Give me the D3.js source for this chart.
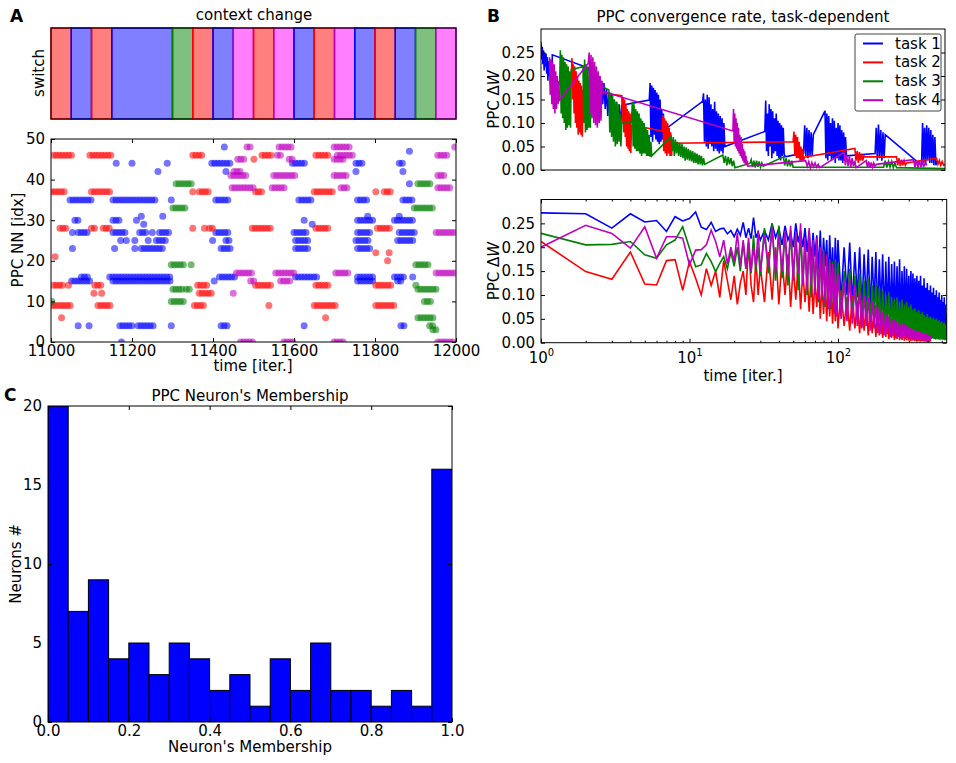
<!DOCTYPE html>
<html>
<head>
<meta charset="utf-8">
<script src="https://cdn.jsdelivr.net/npm/d3@7"></script>
<style>
  body { margin: 0; background: #fff; }
  svg text { font-family: "DejaVu Sans", sans-serif; fill: #000; }
</style>
</head>
<body>
<div id="chart"></div>
<script>
// ---------- data ----------
const taskNames = ['task 1', 'task 2', 'task 3', 'task 4'];
const taskColors = ['#0000ff', '#ff0000', '#008000', '#bf00bf'];
const stripFill = ['#0000ff', '#ff0000', '#008000', '#ff00ff'];

// context blocks: [start, end, task index]
const contextBlocks = [
  [11000, 11050, 1], [11050, 11100, 0], [11100, 11150, 1], [11150, 11300, 0],
  [11300, 11350, 2], [11350, 11400, 1], [11400, 11450, 0], [11450, 11500, 3],
  [11500, 11550, 1], [11550, 11600, 3], [11600, 11650, 0], [11650, 11700, 1],
  [11700, 11750, 3], [11750, 11800, 0], [11800, 11850, 1], [11850, 11900, 0],
  [11900, 11950, 2], [11950, 12000, 3]
];

// firing runs per task: [time start, time end, neuron idx]
const task1Runs = [
  [11047, 11104, 35], [11059, 11067, 30], [11053, 11053, 27], [11067, 11096, 27], [11053, 11053, 23],
  [11051, 11096, 15], [11075, 11096, 16], [11067, 11067, 4], [11094, 11094, 4],
  [11161, 11161, 44], [11200, 11200, 44], [11153, 11260, 35], [11153, 11174, 30], [11211, 11211, 30],
  [11223, 11223, 31], [11229, 11229, 29], [11153, 11186, 27], [11219, 11235, 27], [11250, 11250, 27],
  [11268, 11297, 27], [11172, 11172, 25], [11186, 11186, 25], [11207, 11207, 25], [11240, 11240, 25],
  [11260, 11284, 25], [11157, 11157, 23], [11207, 11207, 23], [11223, 11276, 23], [11276, 11276, 31],
  [11264, 11264, 42], [11287, 11293, 44], [11297, 11297, 35], [11145, 11297, 16], [11153, 11297, 15],
  [11170, 11202, 4], [11215, 11256, 4], [11297, 11297, 4], [11174, 11174, 0],
  [11428, 11428, 48], [11397, 11444, 44], [11432, 11432, 42], [11407, 11440, 35], [11407, 11440, 27],
  [11399, 11399, 25], [11432, 11440, 25], [11420, 11444, 23], [11416, 11455, 16], [11403, 11403, 15],
  [11420, 11436, 4],
  [11596, 11633, 44], [11612, 11645, 35], [11625, 11625, 30], [11645, 11645, 29], [11600, 11637, 27],
  [11604, 11637, 25], [11604, 11641, 23], [11604, 11658, 16], [11625, 11625, 4],
  [11753, 11774, 44], [11753, 11753, 42], [11757, 11782, 35], [11757, 11798, 30], [11782, 11782, 31],
  [11757, 11790, 27], [11753, 11790, 25], [11757, 11790, 23], [11757, 11798, 16], [11757, 11798, 15],
  [11885, 11885, 47], [11860, 11873, 44], [11869, 11869, 42], [11885, 11885, 39], [11869, 11898, 35],
  [11860, 11860, 31], [11848, 11893, 30], [11860, 11898, 27], [11856, 11898, 25], [11848, 11873, 16],
  [11856, 11869, 15], [11893, 11893, 16], [11864, 11873, 4]
];
const task2Runs = [
  [11006, 11051, 46], [11096, 11149, 46], [11003, 11039, 37], [11100, 11149, 37],
  [11022, 11039, 28], [11100, 11112, 28], [11129, 11145, 28], [11010, 11010, 21],
  [11006, 11030, 14], [11043, 11043, 14], [11108, 11129, 14], [11106, 11106, 12], [11125, 11125, 12],
  [11003, 11051, 9], [11116, 11149, 9], [11026, 11026, 6],
  [11350, 11375, 46], [11350, 11350, 37], [11366, 11391, 37], [11350, 11350, 28], [11379, 11379, 28],
  [11391, 11399, 28], [11362, 11391, 14], [11366, 11399, 12], [11354, 11383, 9],
  [11521, 11550, 46], [11501, 11501, 45], [11505, 11525, 37], [11497, 11546, 28], [11505, 11546, 14],
  [11538, 11538, 9],
  [11654, 11691, 46], [11650, 11699, 37], [11654, 11691, 28], [11654, 11691, 14], [11650, 11703, 9],
  [11678, 11678, 6],
  [11802, 11802, 37], [11823, 11845, 37], [11806, 11840, 28], [11802, 11802, 22], [11835, 11835, 22],
  [11831, 11831, 20], [11802, 11840, 14], [11802, 11852, 9]
];
const task3Runs = [
  [11002, 11002, 10],
  [11309, 11350, 39], [11301, 11338, 33], [11297, 11330, 19], [11346, 11346, 19], [11301, 11325, 13],
  [11334, 11346, 13], [11297, 11334, 10],
  [11906, 11943, 39], [11897, 11947, 33], [11901, 11935, 19], [11901, 11901, 14], [11906, 11955, 13],
  [11922, 11939, 10], [11906, 11947, 6], [11935, 11947, 4], [11943, 11952, 3]
];
const task4Runs = [
  [11484, 11497, 48], [11461, 11480, 45], [11452, 11468, 42], [11444, 11484, 41], [11447, 11500, 38],
  [11458, 11500, 17], [11493, 11505, 15], [11450, 11455, 12], [11468, 11500, 0],
  [11563, 11600, 48], [11559, 11571, 46], [11588, 11600, 45], [11550, 11604, 41], [11546, 11579, 38],
  [11555, 11600, 17], [11567, 11592, 15], [11575, 11600, 0],
  [11699, 11740, 48], [11707, 11748, 46], [11699, 11724, 45], [11699, 11732, 41], [11716, 11732, 38],
  [11703, 11740, 17], [11699, 11728, 0],
  [11997, 11997, 48], [11955, 11980, 46], [11955, 11972, 41], [11955, 11992, 38], [11951, 11997, 27],
  [11951, 12000, 17], [11955, 11997, 0]
];

// convergence, training order: [start, end, [samples]]
const task1Conv = [
  [0, 28, [0.272, 0.235, 0.262, 0.225, 0.255, 0.212, 0.25, 0.22, 0.248, 0.205, 0.24, 0.19, 0.232, 0.2, 0.235, 0.182, 0.228, 0.175, 0.245]],
  [118, 200, [0.217, 0.2, 0.22, 0.185, 0.212, 0.17, 0.205, 0.16, 0.2, 0.15, 0.19, 0.14, 0.185, 0.13, 0.172, 0.115, 0.165, 0.11, 0.16, 0.1, 0.15, 0.092, 0.145, 0.095, 0.14, 0.09, 0.138]],
  [268, 305, [0.149, 0.185, 0.07, 0.18, 0.06, 0.175, 0.075, 0.17, 0.065, 0.165, 0.06, 0.16, 0.055, 0.15, 0.06, 0.13, 0.065, 0.12, 0.085]],
  [400, 455, [0.146, 0.163, 0.06, 0.15, 0.05, 0.16, 0.045, 0.155, 0.055, 0.14, 0.05, 0.13, 0.04, 0.145, 0.045, 0.125, 0.04, 0.12, 0.035, 0.115, 0.04, 0.11, 0.035, 0.1, 0.05]],
  [554, 604, [0.082, 0.148, 0.04, 0.12, 0.03, 0.14, 0.05, 0.13, 0.025, 0.125, 0.035, 0.11, 0.04, 0.12, 0.03, 0.105, 0.025, 0.1, 0.02, 0.095, 0.03, 0.09, 0.035, 0.028]],
  [650, 674, [0.036, 0.095, 0.03, 0.09, 0.025, 0.085, 0.03, 0.08, 0.03, 0.075]],
  [703, 756, [0.126, 0.025, 0.12, 0.02, 0.115, 0.03, 0.1, 0.02, 0.11, 0.025, 0.105, 0.015, 0.09, 0.025, 0.1, 0.02, 0.095, 0.02, 0.085, 0.015, 0.08, 0.02, 0.07, 0.03]],
  [827, 852, [0.035, 0.09, 0.02, 0.097, 0.025, 0.085, 0.02, 0.08, 0.025, 0.075]],
  [942, 980, [0.01, 0.1, 0.015, 0.09, 0.01, 0.095, 0.02, 0.09, 0.015, 0.085, 0.015, 0.075, 0.01, 0.07, 0.01, 0.02]]
];
const task2Conv = [
  [75, 104, [0.2, 0.238, 0.15, 0.225, 0.12, 0.22, 0.1, 0.21, 0.09, 0.2, 0.075, 0.19, 0.08, 0.185, 0.075, 0.18, 0.071, 0.17]],
  [200, 224, [0.158, 0.1, 0.155, 0.08, 0.15, 0.07, 0.14, 0.05, 0.13, 0.045, 0.125, 0.04, 0.12, 0.036, 0.096]],
  [300, 325, [0.083, 0.117, 0.04, 0.11, 0.035, 0.105, 0.03, 0.1, 0.035, 0.09, 0.03, 0.08, 0.03, 0.057]],
  [624, 652, [0.06, 0.082, 0.03, 0.075, 0.025, 0.07, 0.025, 0.06, 0.02, 0.05, 0.02, 0.045, 0.02, 0.027]],
  [777, 802, [0.046, 0.02, 0.04, 0.015, 0.038, 0.02, 0.035, 0.02, 0.03, 0.028]],
  [880, 905, [0.028, 0.01, 0.025, 0.008, 0.022, 0.01, 0.02, 0.01, 0.015]],
  [979, 1000, [0.025, 0.012, 0.02, 0.01, 0.018, 0.01, 0.012]]
];
const task3Conv = [
  [46, 75, [0.18, 0.255, 0.12, 0.245, 0.11, 0.24, 0.1, 0.23, 0.085, 0.225, 0.09, 0.22, 0.095, 0.21, 0.09, 0.213]],
  [104, 124, [0.22, 0.1, 0.235, 0.08, 0.225, 0.085, 0.22, 0.09, 0.2, 0.09, 0.19]],
  [168, 200, [0.17, 0.08, 0.165, 0.07, 0.16, 0.06, 0.15, 0.05, 0.145, 0.055, 0.14, 0.06, 0.12, 0.05, 0.1]],
  [224, 274, [0.1, 0.145, 0.05, 0.14, 0.045, 0.13, 0.04, 0.125, 0.04, 0.12, 0.035, 0.11, 0.03, 0.105, 0.035, 0.1, 0.035, 0.09, 0.03, 0.085, 0.03, 0.075, 0.028, 0.06, 0.03]],
  [322, 405, [0.071, 0.04, 0.07, 0.03, 0.065, 0.035, 0.06, 0.03, 0.058, 0.028, 0.055, 0.025, 0.05, 0.02, 0.048, 0.022, 0.045, 0.02, 0.042, 0.018, 0.04, 0.015, 0.037, 0.015, 0.035, 0.012, 0.032, 0.012, 0.03, 0.01, 0.025, 0.012]],
  [450, 480, [0.032, 0.015, 0.03, 0.01, 0.028, 0.012, 0.025, 0.008, 0.02, 0.005]],
  [517, 550, [0.014, 0.022, 0.006, 0.02, 0.005, 0.02, 0.007, 0.018, 0.006, 0.015, 0.008]],
  [600, 624, [0.028, 0.01, 0.025, 0.008, 0.022, 0.008, 0.02, 0.006]],
  [848, 880, [0.006, 0.02, 0.005, 0.018, 0.006, 0.018, 0.005, 0.015, 0.005]],
  [1000, 1000, [0.003]]
];
const task4Conv = [
  [21, 46, [0.24, 0.16, 0.235, 0.14, 0.23, 0.13, 0.225, 0.12, 0.21, 0.13, 0.2, 0.14, 0.19, 0.149]],
  [117, 153, [0.227, 0.25, 0.12, 0.245, 0.11, 0.24, 0.1, 0.23, 0.095, 0.22, 0.09, 0.21, 0.1, 0.2, 0.105, 0.19, 0.167]],
  [475, 512, [0.083, 0.13, 0.06, 0.12, 0.05, 0.11, 0.045, 0.1, 0.04, 0.09, 0.035, 0.075, 0.03, 0.07, 0.025, 0.055, 0.02, 0.045, 0.015, 0.04, 0.012, 0.03, 0.01, 0.02, 0.008]],
  [655, 690, [0.02, 0.008, 0.018, 0.005, 0.016, 0.007, 0.015, 0.006, 0.012, 0.005]],
  [750, 780, [0.038, 0.01, 0.032, 0.008, 0.03, 0.006, 0.025, 0.008, 0.02, 0.005]],
  [805, 830, [0.02, 0.006, 0.018, 0.005, 0.016, 0.006, 0.015, 0.008, 0.012]],
  [922, 955, [0.022, 0.006, 0.02, 0.005, 0.02, 0.006, 0.018, 0.008, 0.015, 0.01]]
];

// convergence vs time within a task
const earlyTimes = d3.range(1, 31);           // iterations 1..30
const lateTimes = [...d3.range(32, 100, 2), ...d3.range(100, 545, 5)];
const task1Early = [0.272, 0.27, 0.24, 0.27, 0.253, 0.256, 0.233, 0.264, 0.255, 0.26, 0.274, 0.242, 0.237, 0.252, 0.233,
  0.238, 0.24, 0.228, 0.235, 0.222, 0.238, 0.225, 0.252, 0.22, 0.24, 0.218, 0.262, 0.22, 0.232, 0.215];
const task1Late = [0.235, 0.215, 0.25, 0.22, 0.24, 0.205, 0.245, 0.215, 0.23, 0.2, 0.25, 0.21, 0.235, 0.2, 0.24,
  0.19, 0.235, 0.17, 0.23, 0.18, 0.225, 0.15, 0.235, 0.14, 0.22, 0.16, 0.215, 0.12, 0.225, 0.13, 0.2, 0.11, 0.22, 0.12,
  0.215, 0.09, 0.2, 0.1, 0.21, 0.08, 0.19, 0.095, 0.2, 0.07, 0.185, 0.085, 0.195, 0.065, 0.18, 0.08, 0.19, 0.06, 0.175, 0.07, 0.185,
  0.05, 0.17, 0.06, 0.18, 0.045, 0.165, 0.055, 0.17, 0.04, 0.16, 0.05, 0.175, 0.04, 0.15, 0.045, 0.16, 0.035, 0.155, 0.045, 0.14,
  0.035, 0.15, 0.03, 0.145, 0.04, 0.135, 0.03, 0.14, 0.035, 0.13, 0.027,
  0.14, 0.03, 0.12, 0.025, 0.135, 0.035, 0.115, 0.02, 0.125, 0.03, 0.11, 0.02, 0.12, 0.025, 0.105, 0.018, 0.115, 0.025, 0.1,
  0.015, 0.11, 0.02, 0.095, 0.015, 0.105, 0.02, 0.09, 0.012, 0.1, 0.018, 0.085, 0.01, 0.095, 0.015, 0.08, 0.012, 0.06];
const task2Early = [0.212, 0.149, 0.133, 0.19, 0.123, 0.121, 0.172, 0.174, 0.11, 0.17, 0.135, 0.1, 0.155, 0.12, 0.15,
  0.095, 0.172, 0.13, 0.09, 0.14, 0.08, 0.125, 0.15, 0.1, 0.21, 0.12, 0.085, 0.175, 0.1, 0.16];
const task2Late = [0.085, 0.19, 0.09, 0.2, 0.08, 0.175, 0.1, 0.185, 0.075, 0.16, 0.09, 0.17, 0.07, 0.15, 0.085,
  0.14, 0.065, 0.15, 0.06, 0.13, 0.075, 0.14, 0.05, 0.125, 0.06, 0.13, 0.045, 0.12, 0.055, 0.115, 0.04, 0.11, 0.045, 0.105,
  0.03, 0.11, 0.035, 0.095, 0.025, 0.1, 0.03, 0.085, 0.02, 0.09, 0.025, 0.075, 0.015, 0.08, 0.02, 0.065, 0.012, 0.07, 0.015, 0.06, 0.01,
  0.055, 0.012, 0.06, 0.008, 0.05, 0.01, 0.045, 0.006, 0.05, 0.008, 0.04, 0.005, 0.045, 0.006, 0.035, 0.004, 0.04, 0.005, 0.03, 0.004,
  0.035, 0.003, 0.028, 0.004, 0.03, 0.003, 0.025, 0.002, 0.022, 0.003, 0.02, 0.002, 0.02, 0.003, 0.018, 0.002, 0.016, 0.002, 0.015,
  0.002, 0.014, 0.001, 0.012, 0.002];
const task3Early = [0.229, 0.205, 0.206, 0.212, 0.184, 0.177, 0.205, 0.215, 0.243, 0.198, 0.159, 0.163, 0.187, 0.17, 0.149,
  0.166, 0.18, 0.155, 0.19, 0.16, 0.2, 0.15, 0.21, 0.155, 0.19, 0.145, 0.225, 0.15, 0.2, 0.14];
const task3Late = [0.24, 0.145, 0.25, 0.13, 0.245, 0.135, 0.23, 0.12, 0.235, 0.14, 0.225, 0.11, 0.23, 0.12, 0.215,
  0.1, 0.22, 0.095, 0.2, 0.11, 0.205, 0.085, 0.19, 0.09, 0.195, 0.075, 0.18, 0.085, 0.175, 0.07, 0.17, 0.065, 0.175, 0.06,
  0.166, 0.055, 0.15, 0.06, 0.155, 0.05, 0.14, 0.055, 0.145, 0.045, 0.13, 0.05, 0.135, 0.04, 0.12, 0.045, 0.125, 0.035, 0.115, 0.03, 0.11,
  0.028, 0.1, 0.03, 0.105, 0.025, 0.095, 0.028, 0.09, 0.022, 0.095, 0.025, 0.085, 0.02, 0.09, 0.022, 0.08, 0.018, 0.085, 0.02, 0.075,
  0.016, 0.08, 0.018, 0.07, 0.014, 0.072, 0.016, 0.065, 0.012, 0.068, 0.014,
  0.06, 0.012, 0.065, 0.01, 0.058, 0.012, 0.055, 0.01, 0.06, 0.009, 0.052, 0.01, 0.055, 0.008, 0.05, 0.009, 0.052, 0.008, 0.048,
  0.007, 0.05, 0.008, 0.045, 0.007, 0.047, 0.006, 0.043, 0.007, 0.045, 0.006, 0.04, 0.006, 0.042, 0.005, 0.038, 0.006, 0.025];
const task4Early = [0.2, 0.246, 0.229, 0.198, 0.243, 0.177, 0.222, 0.222, 0.219, 0.163, 0.194, 0.195, 0.205, 0.236, 0.212,
  0.18, 0.215, 0.165, 0.2, 0.17, 0.23, 0.16, 0.215, 0.155, 0.22, 0.15, 0.2, 0.16, 0.235, 0.15];
const task4Late = [0.225, 0.16, 0.24, 0.145, 0.225, 0.15, 0.235, 0.14, 0.245, 0.13, 0.23, 0.145, 0.25, 0.12, 0.22,
  0.11, 0.24, 0.12, 0.215, 0.1, 0.22, 0.09, 0.2, 0.095, 0.19, 0.08, 0.185, 0.07, 0.175, 0.075, 0.165, 0.06, 0.155, 0.055,
  0.145, 0.05, 0.13, 0.045, 0.135, 0.04, 0.12, 0.035, 0.11, 0.03, 0.1, 0.035, 0.095, 0.025, 0.085, 0.03, 0.08, 0.02, 0.075, 0.018, 0.065,
  0.015, 0.06, 0.018, 0.055, 0.012, 0.05, 0.014, 0.048, 0.01, 0.045, 0.012, 0.042, 0.009, 0.04, 0.01, 0.038, 0.008, 0.035, 0.009, 0.032,
  0.007, 0.03, 0.008, 0.028, 0.006, 0.026, 0.007, 0.025, 0.005, 0.024, 0.006, 0.022, 0.005, 0.02, 0.006, 0.02, 0.005, 0.018, 0.004,
  0.018, 0.005, 0.016, 0.004, 0.015];

// membership histogram
const histCounts = [20, 7, 9, 4, 5, 3, 5, 4, 2, 3, 1, 4, 2, 5, 2, 2, 1, 2, 1, 16];
const histBinWidth = 0.05;

const scatterRuns = [task1Runs, task2Runs, task3Runs, task4Runs];
const convRuns = [task1Conv, task2Conv, task3Conv, task4Conv];
const convEarly = [task1Early, task2Early, task3Early, task4Early];
const convLate = [task1Late, task2Late, task3Late, task4Late];

// ---------- drawing ----------
const W = 956, H = 763;
const FS = 15;
const svg = d3.select('#chart').append('svg').attr('width', W).attr('height', H);

function panel(x, y, w, h, id) {
  const g = svg.append('g').attr('transform', `translate(${x},${y})`);
  svg.append('clipPath').attr('id', id).append('rect').attr('width', w).attr('height', h);
  return g;
}

function styleAxis(sel) {
  sel.attr('font-size', FS).attr('font-family', 'DejaVu Sans');
  sel.select('.domain').remove();
  sel.selectAll('line').attr('stroke', '#000');
  sel.selectAll('text').attr('fill', '#000');
}

// inward ticks on all four sides, labels left/bottom
function boxAxes(g, x, y, w, h, o) {
  const left = d3.axisLeft(y).tickSize(-4).tickPadding(6).tickValues(o.yTicks).tickFormat(o.yFmt);
  const right = d3.axisRight(y).tickSize(-4).tickValues(o.yTicks).tickFormat('');
  g.append('g').call(left).call(styleAxis);
  g.append('g').attr('transform', `translate(${w},0)`).call(right).call(styleAxis);
  if (o.xTicks) {
    const bottom = d3.axisBottom(x).tickSize(-4).tickPadding(3).tickValues(o.xTicks).tickFormat(o.xFmt || '');
    const top = d3.axisTop(x).tickSize(-4).tickValues(o.xTicks).tickFormat('');
    g.append('g').attr('transform', `translate(0,${h})`).call(bottom).call(styleAxis);
    g.append('g').call(top).call(styleAxis);
  }
}

function frame(g, w, h) {
  g.append('rect').attr('width', w).attr('height', h)
    .attr('fill', 'none').attr('stroke', '#000').attr('stroke-width', 1);
}

function yLabel(x, y, txt) {
  return svg.append('text').attr('transform', `translate(${x},${y}) rotate(-90)`)
    .attr('text-anchor', 'middle').attr('font-size', FS).text(txt);
}

function label(x, y, txt, size, weight) {
  return svg.append('text').attr('x', x).attr('y', y).attr('text-anchor', 'middle')
    .attr('font-size', size || FS).attr('font-weight', weight || 'normal').text(txt);
}

// ---- Panel A: context strip ----
const xA = d3.scaleLinear().domain([11000, 12000]).range([0, 405]);
const strip = panel(51, 28, 405, 91, 'clipStrip');
strip.selectAll('rect.block').data(contextBlocks).enter().append('rect')
  .attr('class', 'block')
  .attr('x', d => xA(d[0])).attr('width', d => xA(d[1]) - xA(d[0]))
  .attr('y', 0).attr('height', 91)
  .attr('fill', d => stripFill[d[2]]).attr('fill-opacity', 0.5)
  .attr('stroke', d => taskColors[d[2]]).attr('stroke-width', 1.5);
frame(strip, 405, 91);
label(254, 20, 'context change');
yLabel(44, 73, 'switch');
svg.append('text').attr('x', 10).attr('y', 22).attr('font-size', 17).attr('font-weight', 'bold').text('A');

// ---- Panel A: raster ----
const yA = d3.scaleLinear().domain([0, 50]).range([203, 0]);
const raster = panel(51, 139, 405, 203, 'clipRaster');
const dots = raster.append('g').attr('clip-path', 'url(#clipRaster)');
scatterRuns.forEach((runs, k) => {
  [0, 3].forEach(off => {
    dots.append('g').selectAll('line').data(runs).enter().append('line')
      .attr('x1', d => xA(d[0])).attr('x2', d => xA(d[1]) + 0.01)
      .attr('y1', d => yA(d[2])).attr('y2', d => yA(d[2]))
      .attr('stroke', taskColors[k]).attr('stroke-opacity', 0.55)
      .attr('stroke-width', 7).attr('stroke-linecap', 'round')
      .attr('stroke-dasharray', '0 6').attr('stroke-dashoffset', off);
  });
});
boxAxes(raster, xA, yA, 405, 203, {
  yTicks: [0, 10, 20, 30, 40, 50], yFmt: d3.format('d'),
  xTicks: [11000, 11200, 11400, 11600, 11800, 12000], xFmt: d3.format('d')
});
frame(raster, 405, 203);
yLabel(23, 240, 'PPC NN [idx]');
label(253, 371, 'time [iter.]');

// ---- Panel B: convergence in training order ----
const xB1 = d3.scaleLinear().domain([0, 1000]).range([0, 404]);
const yB = d3.scaleLinear().domain([0, 0.3]);
const yB1 = yB.copy().range([141, 0]);
const conv = panel(541, 29, 404, 141, 'clipConv');
const convLines = conv.append('g').attr('clip-path', 'url(#clipConv)');
const lineB1 = d3.line().x(d => xB1(d[0])).y(d => yB1(d[1]));
convRuns.forEach((chunks, k) => {
  const pts = chunks.flatMap(c => c[2].map((v, i) =>
    [c[2].length > 1 ? c[0] + i * (c[1] - c[0]) / (c[2].length - 1) : c[0], v]));
  convLines.append('path').attr('d', lineB1(pts))
    .attr('fill', 'none').attr('stroke', taskColors[k]).attr('stroke-width', 1.6);
});
boxAxes(conv, xB1, yB1, 404, 141, {
  yTicks: [0, 0.05, 0.1, 0.15, 0.2, 0.25], yFmt: d3.format('.2f')
});
frame(conv, 404, 141);

// legend
const leg = conv.append('g').attr('transform', 'translate(314,5)');
leg.append('rect').attr('width', 86).attr('height', 77).attr('rx', 2)
  .attr('fill', '#fff').attr('stroke', '#444').attr('stroke-width', 1);
taskNames.forEach((t, i) => {
  const yy = 9.5 + i * 18.9;
  leg.append('line').attr('x1', 8).attr('x2', 28).attr('y1', yy).attr('y2', yy)
    .attr('stroke', taskColors[i]).attr('stroke-width', 2);
  leg.append('text').attr('x', 40).attr('y', yy + 5).attr('font-size', FS).text(t);
});
label(743, 22, 'PPC convergence rate, task-dependent');
svg.append('text').attr('x', 487).attr('y', 22).attr('font-size', 17).attr('font-weight', 'bold').text('B');

function dwLabel(x, y) {
  const t = svg.append('text').attr('transform', `translate(${x},${y}) rotate(-90)`)
    .attr('text-anchor', 'middle').attr('font-size', FS);
  t.append('tspan').text('PPC \u0394');
  t.append('tspan').attr('font-style', 'italic').text('W');
}
dwLabel(499, 99.5);

// ---- Panel B: convergence vs time (log) ----
const xB2 = d3.scaleLog().domain([1, 540]).range([0, 405.7]);
const yB2 = yB.copy().range([143.2, 0]);
const convT = panel(541, 199.5, 405.7, 143.2, 'clipConvT');
const tLines = convT.append('g').attr('clip-path', 'url(#clipConvT)');
const lineB2 = d3.line().x(d => xB2(d[0])).y(d => yB2(d[1]));
convEarly.forEach((early, k) => {
  const pts = early.map((v, i) => [earlyTimes[i], v])
    .concat(convLate[k].map((v, i) => [lateTimes[i], v]));
  tLines.append('path').attr('d', lineB2(pts))
    .attr('fill', 'none').attr('stroke', taskColors[k]).attr('stroke-width', 1.6);
});
boxAxes(convT, xB2, yB2, 405.7, 143.2, {
  yTicks: [0, 0.05, 0.1, 0.15, 0.2, 0.25], yFmt: d3.format('.2f')
});
const majorT = [1, 10, 100];
const minorT = [2, 3, 4, 5, 6, 7, 8, 9, 20, 30, 40, 50, 60, 70, 80, 90, 200, 300, 400, 500];
const xb = convT.append('g').attr('transform', 'translate(0,143.2)')
  .call(d3.axisBottom(xB2).tickValues(majorT).tickSize(-4).tickFormat(''))
  .call(styleAxis);
xb.selectAll('.tick').append('text').attr('y', 20).attr('text-anchor', 'middle').attr('fill', '#000')
  .each(function(d) {
    const t = d3.select(this);
    t.append('tspan').text('10');
    t.append('tspan').attr('dy', -7).attr('font-size', 10).text(Math.round(Math.log10(d)));
  });
convT.append('g').call(d3.axisTop(xB2).tickValues(majorT).tickSize(-4).tickFormat('')).call(styleAxis);
convT.append('g').attr('transform', 'translate(0,143.2)')
  .call(d3.axisBottom(xB2).tickValues(minorT).tickSize(-2).tickFormat('')).call(styleAxis);
convT.append('g').call(d3.axisTop(xB2).tickValues(minorT).tickSize(-2).tickFormat('')).call(styleAxis);
frame(convT, 405.7, 143.2);
dwLabel(499, 271);
label(743, 381, 'time [iter.]');

// ---- Panel C: membership histogram ----
const xC = d3.scaleLinear().domain([0, 1]).range([0, 404]);
const yC = d3.scaleLinear().domain([0, 20]).range([316, 0]);
const hist = panel(48, 406, 404, 316, 'clipHist');
hist.append('g').attr('clip-path', 'url(#clipHist)')
  .selectAll('rect').data(histCounts).enter().append('rect')
  .attr('x', (d, i) => xC(i * histBinWidth))
  .attr('width', xC(histBinWidth) - xC(0))
  .attr('y', d => yC(d)).attr('height', d => yC(0) - yC(d))
  .attr('fill', '#0000ff').attr('stroke', '#000').attr('stroke-width', 1);
boxAxes(hist, xC, yC, 404, 316, {
  yTicks: [0, 5, 10, 15, 20], yFmt: d3.format('d'),
  xTicks: [0, 0.2, 0.4, 0.6, 0.8, 1.0], xFmt: d3.format('.1f')
});
frame(hist, 404, 316);
label(250, 401, "PPC Neuron's Membership");
label(250, 752, "Neuron's Membership");
yLabel(21, 564, 'Neurons #');
svg.append('text').attr('x', 4).attr('y', 401).attr('font-size', 17).attr('font-weight', 'bold').text('C');
</script>
</body>
</html>
